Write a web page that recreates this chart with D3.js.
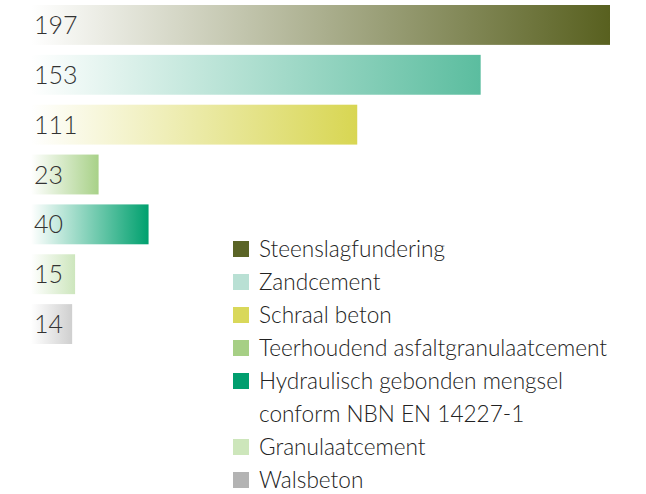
<!DOCTYPE html>
<html>
<head>
<meta charset="utf-8">
<script src="https://cdn.jsdelivr.net/npm/d3@7"></script>
<style>
  html, body { margin: 0; padding: 0; background: #fff; }
  svg text { font-family: Lato, "Open Sans", sans-serif; font-weight: 300; }
</style>
</head>
<body>
<div id="chart"></div>
<script>
// data
const categories = ['Steenslagfundering', 'Zandcement', 'Schraal beton', 'Teerhoudend asfaltgranulaatcement',
  'Hydraulisch gebonden mengsel conform NBN EN 14227-1', 'Granulaatcement', 'Walsbeton'];
const values = [197, 153, 111, 23, 40, 15, 14];
const barColors = ['#58601f', '#5bbd9f', '#d8d652', '#a8d188', '#00a06e', '#cde6bd', '#cfcfcf'];
const legendColors = ['#5a6426', '#b9e0d4', '#d9d85a', '#a6cf85', '#009e6e', '#cde6bb', '#b3b3b3'];
const legendLines = [['Steenslagfundering'], ['Zandcement'], ['Schraal beton'], ['Teerhoudend asfaltgranulaatcement'],
  ['Hydraulisch gebonden mengsel', 'conform NBN EN 14227-1'], ['Granulaatcement'], ['Walsbeton']];

const width = 646, height = 494;

const svg = d3.select('#chart').append('svg')
  .attr('width', width)
  .attr('height', height);

const x = d3.scaleLinear().domain([0, 197]).range([31, 610]);
const y = d3.scaleBand().domain(d3.range(values.length)).range([5, 344]).paddingInner(0.2).paddingOuter(0);

// gradients, transparent on the left to full colour at the bar end
const defs = svg.append('defs');
barColors.forEach((c, i) => {
  const g = defs.append('linearGradient')
    .attr('id', 'grad' + i)
    .attr('x1', '0%').attr('y1', '0%')
    .attr('x2', '100%').attr('y2', '0%');
  g.append('stop').attr('offset', '0%').attr('stop-color', c).attr('stop-opacity', 0);
  g.append('stop').attr('offset', '100%').attr('stop-color', c).attr('stop-opacity', 1);
});

svg.append('g').selectAll('rect')
  .data(values)
  .join('rect')
  .attr('x', x(0))
  .attr('y', (d, i) => y(i))
  .attr('width', d => x(d) - x(0))
  .attr('height', y.bandwidth())
  .attr('fill', (d, i) => `url(#grad${i})`);

svg.append('g').selectAll('text')
  .data(values)
  .join('text')
  .attr('x', x(0) + 3)
  .attr('y', (d, i) => y(i) + y.bandwidth() / 2)
  .attr('dy', '0.36em')
  .attr('font-size', 25)
  .attr('fill', '#333')
  .text(d => d);

// legend
const legend = svg.append('g').attr('transform', 'translate(233,0)');
let row = 0;
const rowH = 33, legendTop = 249;
legendLines.forEach((lines, i) => {
  const cy = legendTop + row * rowH;
  legend.append('rect')
    .attr('x', 0).attr('y', cy - 8)
    .attr('width', 16).attr('height', 16)
    .attr('fill', legendColors[i]);
  lines.forEach((t, j) => {
    legend.append('text')
      .attr('x', 26)
      .attr('y', cy + j * rowH)
      .attr('dy', '0.35em')
      .attr('font-size', 22.6)
      .attr('fill', '#222')
      .text(t);
  });
  row += lines.length;
});
</script>
</body>
</html>
